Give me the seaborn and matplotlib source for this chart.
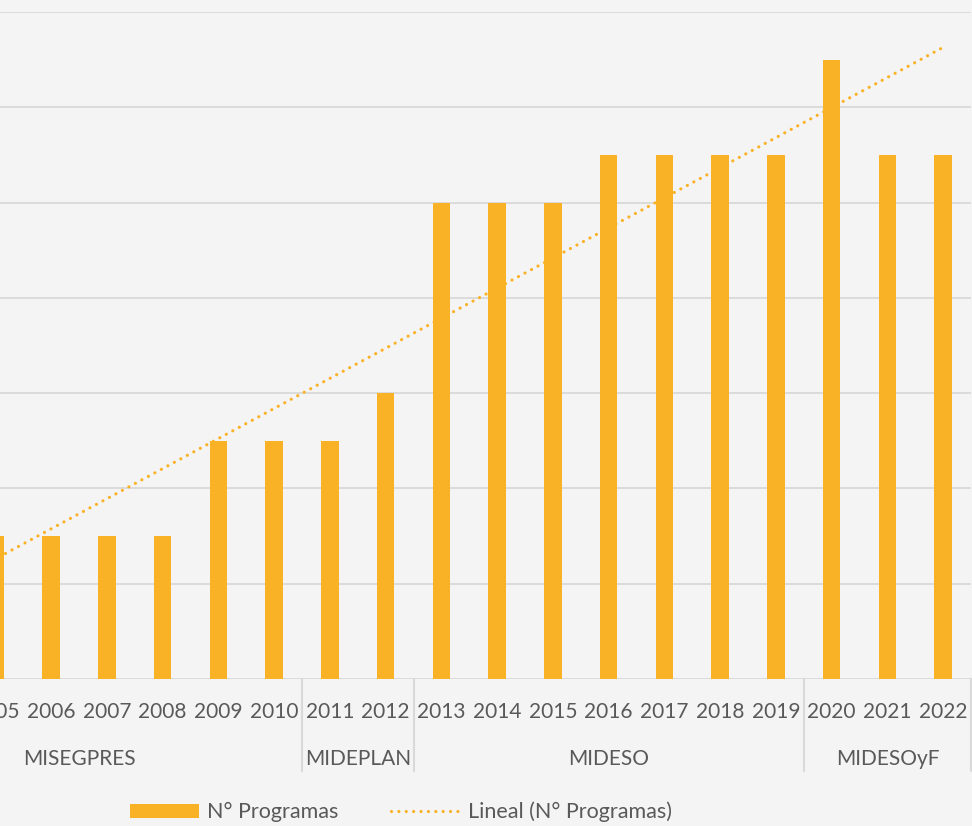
import numpy as np
import pandas as pd
import matplotlib
matplotlib.use("Agg")
import matplotlib.pyplot as plt
import matplotlib.transforms as mtransforms
from matplotlib.patches import Patch
from matplotlib.lines import Line2D
import seaborn as sns

years = ["2005", "2006", "2007", "2008", "2009", "2010", "2011", "2012", "2013",
         "2014", "2015", "2016", "2017", "2018", "2019", "2020", "2021", "2022"]
programas = [3, 3, 3, 3, 5, 5, 5, 6, 10, 10, 10, 11, 11, 11, 11, 13, 11, 11]
groups = ["MISEGPRES", "MIDEPLAN", "MIDESO", "MIDESOyF"]
group_sizes = [6, 2, 7, 3]

BAR = "#F9B125"
TXT = "#595959"
BG = "#F4F4F4"
GRID = "#D9D9D9"

sns.set_theme(style="white")
plt.rcParams["font.family"] = ["Lato", "DejaVu Sans"]

df = pd.DataFrame({"year": years, "n": programas})

fig = plt.figure(figsize=(9.72, 8.26), dpi=100, facecolor=BG)
W, H = 972, 826
left_px, right_px = -144, 971
top_px, base_px = 12, 679
ax = fig.add_axes([left_px / W, 1 - base_px / H, (right_px - left_px) / W, (base_px - top_px) / H])
ax.set_facecolor(BG)

sns.barplot(data=df, x="year", y="n", color=BAR, width=0.31, ax=ax,
            saturation=1, zorder=3, linewidth=0)

xi = np.arange(len(years))
coef = np.polyfit(xi, np.array(programas, dtype=float), 1)
ax.plot(xi, np.polyval(coef, xi), color=BAR, lw=2.3, linestyle=(0, (0.01, 2.3)),
        dash_capstyle="round", zorder=4)

ax.set_xlim(-2.5, len(years) - 0.5)
ax.set_ylim(0, 14)
ax.set_yticks(np.arange(0, 15, 2))
ax.yaxis.grid(True, color=GRID, lw=1.3, zorder=0)
ax.set_yticklabels([])
ax.tick_params(left=False, bottom=False, labelleft=False, labelbottom=False)
for s in ax.spines.values():
    s.set_visible(False)
ax.set_xlabel("")
ax.set_ylabel("")

# category labels
trans = mtransforms.blended_transform_factory(ax.transData, ax.transAxes)
dy = (base_px - top_px)
for i, y in enumerate(years):
    ax.text(i, -33 / dy, y, transform=trans, ha="center", va="center",
            fontsize=15, color=TXT, clip_on=False)

# group labels and separators
bounds = np.cumsum(group_sizes) - 0.5
starts = [ax.get_xlim()[0]] + list(bounds[:-1])
for g, s, e in zip(groups, starts, bounds):
    ax.text((s + e) / 2, -80 / dy, g, transform=trans, ha="center", va="center",
            fontsize=15, color=TXT, clip_on=False)
for b in bounds:
    ax.plot([b, b], [0, -92 / dy], transform=trans, color=GRID, lw=1.5, clip_on=False)

handles = [Patch(facecolor=BAR, edgecolor="none", label="N° Programas"),
           Line2D([0], [0], color=BAR, lw=2.3, linestyle=(0, (0.01, 2.3)),
                  dash_capstyle="round", label="Lineal (N° Programas)")]
fig.legend(handles=handles, loc="center", bbox_to_anchor=(401 / W, 1 - 812 / H),
           ncol=2, frameon=False, fontsize=15.5, handlelength=3.2, handleheight=0.6,
           columnspacing=2.4, handletextpad=0.4, labelcolor=TXT)

fig.savefig("out.png", dpi=100, facecolor=BG)
